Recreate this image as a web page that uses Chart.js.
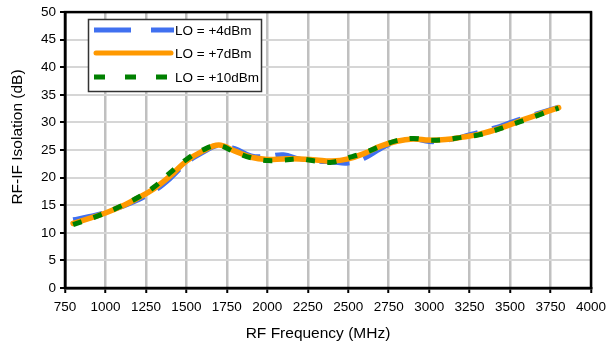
<!DOCTYPE html>
<html>
<head>
<meta charset="utf-8">
<script src="https://cdn.jsdelivr.net/npm/chart.js@4"></script>
<style>
  html, body { margin: 0; padding: 0; background: #fff; }
  #wrap { width: 613px; height: 344px; }
</style>
</head>
<body>
<div id="wrap"><canvas id="chart" width="613" height="344"></canvas></div>
<script>
// RF frequency points (MHz)
const freqs = [800, 900, 1000, 1100, 1200, 1300, 1400, 1500, 1600, 1700, 1800, 1900, 2000, 2100, 2200, 2300,
  2400, 2500, 2600, 2700, 2800, 2900, 3000, 3100, 3200, 3300, 3400, 3500, 3600, 3700, 3800];

// RF-IF isolation (dB) for each LO drive
const lo4 = [12.4, 13.0, 13.7, 14.7, 15.9, 17.5, 19.8, 22.6, 24.5, 25.8, 25.3, 24.0, 23.9, 24.2, 23.4, 23.0,
  22.8, 22.6, 23.5, 25.2, 26.5, 27.0, 26.5, 26.7, 27.4, 28.2, 29.0, 30.0, 31.0, 31.9, 32.8];
const lo7 = [11.7, 12.6, 13.6, 14.8, 16.3, 18.0, 20.3, 23.0, 24.8, 25.9, 24.8, 23.7, 23.3, 23.4, 23.4, 23.2,
  23.0, 23.4, 24.4, 25.7, 26.6, 27.0, 26.8, 26.9, 27.3, 27.8, 28.6, 29.6, 30.7, 31.7, 32.7];
const lo10 = [11.5, 12.5, 13.6, 14.9, 16.4, 18.3, 20.9, 23.3, 25.0, 25.8, 24.6, 23.6, 23.1, 23.2, 23.4, 23.0,
  22.8, 23.6, 24.5, 25.7, 26.7, 27.1, 26.8, 26.9, 27.3, 27.7, 28.5, 29.5, 30.5, 31.6, 32.6];

const seriesNames = ['LO = +4dBm', 'LO = +7dBm', 'LO = +10dBm'];
const xTitle = 'RF Frequency (MHz)';
const yTitle = 'RF-IF Isolation (dB)';

const FONT = 'Liberation Sans, Arial, sans-serif';

function toPoints(vals) {
  return freqs.map((f, i) => ({ x: f, y: vals[i] }));
}

// frame, axis titles and legend box
const extras = {
  id: 'extras',
  afterDraw(chart) {
    const ctx = chart.ctx;
    const a = chart.chartArea;
    ctx.save();

    // plot frame
    ctx.strokeStyle = '#000';
    ctx.lineWidth = 2.5;
    ctx.strokeRect(a.left, a.top, a.right - a.left, a.bottom - a.top);

    // axis titles
    ctx.fillStyle = '#000';
    ctx.font = '15.5px ' + FONT;
    ctx.textAlign = 'center';
    ctx.textBaseline = 'middle';
    ctx.fillText(xTitle, 318, 334);
    ctx.translate(18, 137);
    ctx.rotate(-Math.PI / 2);
    ctx.fillText(yTitle, 0, 0);
    ctx.setTransform(1, 0, 0, 1, 0, 0);

    // legend
    const bx = 88.5, by = 19.5, bw = 173, bh = 72;
    ctx.fillStyle = '#fff';
    ctx.fillRect(bx, by, bw, bh);
    ctx.strokeStyle = '#333';
    ctx.lineWidth = 1.5;
    ctx.strokeRect(bx, by, bw, bh);

    const rows = [30, 53, 77];
    const styles = [
      { color: '#4070f0', width: 5, dash: [37, 20], cap: 'butt' },
      { color: '#ff9900', width: 5, dash: [], cap: 'round' },
      { color: '#008000', width: 5, dash: [11, 20], cap: 'butt' }
    ];
    styles.forEach((s, i) => {
      ctx.beginPath();
      ctx.strokeStyle = s.color;
      ctx.lineWidth = s.width;
      ctx.lineCap = s.cap;
      ctx.setLineDash(s.dash);
      ctx.moveTo(s.cap === 'round' ? 96 : 94, rows[i]);
      ctx.lineTo(s.cap === 'round' ? 171 : 174, rows[i]);
      ctx.stroke();
    });
    ctx.setLineDash([]);
    ctx.fillStyle = '#000';
    ctx.font = '13.5px ' + FONT;
    ctx.textAlign = 'left';
    seriesNames.forEach((name, i) => ctx.fillText(name, 175, rows[i] + 1));

    ctx.restore();
  }
};

new Chart(document.getElementById('chart'), {
  type: 'line',
  data: {
    datasets: [
      {
        label: seriesNames[0], data: toPoints(lo4), borderColor: '#4070f0', borderWidth: 4.5,
        borderDash: [30, 15], order: 3
      },
      {
        label: seriesNames[1], data: toPoints(lo7), borderColor: '#ff9900', borderWidth: 5.5,
        borderCapStyle: 'round', order: 2
      },
      {
        label: seriesNames[2], data: toPoints(lo10), borderColor: '#008000', borderWidth: 5,
        borderDash: [9, 12.5], order: 1
      }
    ]
  },
  options: {
    responsive: false,
    animation: false,
    devicePixelRatio: 1,
    layout: { padding: { left: 0, right: 22, top: 12, bottom: 0 } },
    elements: { point: { radius: 0 }, line: { tension: 0.4, fill: false } },
    plugins: { legend: { display: false }, tooltip: { enabled: false } },
    scales: {
      x: {
        type: 'linear', min: 750, max: 4000,
        afterFit: s => { s.height = 56; },
        ticks: {
          stepSize: 250, color: '#000', padding: 6, maxRotation: 0,
          font: { family: FONT, size: 13.5 }, callback: v => String(v)
        },
        grid: { color: '#c0c0c0', lineWidth: 2.5, tickColor: '#000', tickWidth: 2, tickLength: 5 },
        border: { color: '#000', width: 2.5 }
      },
      y: {
        min: 0, max: 50,
        afterFit: s => { s.width = 65; },
        ticks: {
          stepSize: 5, color: '#000', padding: 4,
          font: { family: FONT, size: 13.5 }, callback: v => String(v)
        },
        grid: { color: '#d6d6d6', lineWidth: 2, tickColor: '#000', tickWidth: 2, tickLength: 5 },
        border: { color: '#000', width: 2.5 }
      }
    }
  },
  plugins: [extras]
});
</script>
</body>
</html>
